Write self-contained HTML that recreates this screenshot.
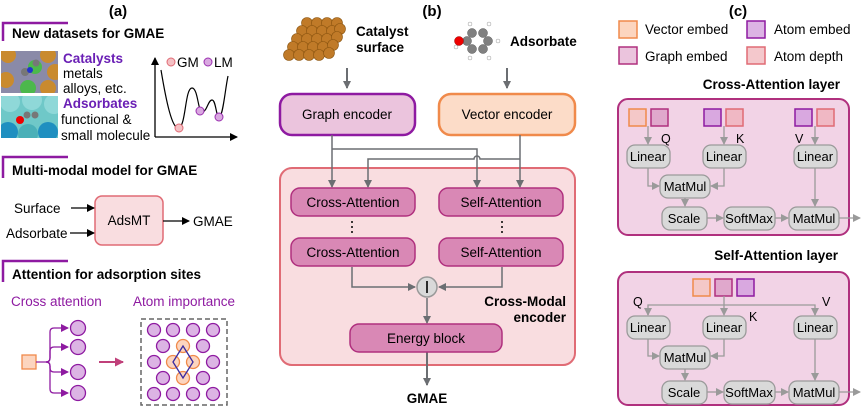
<!DOCTYPE html>
<html><head><meta charset="utf-8"><style>
html,body{margin:0;padding:0;background:#fff}
svg{display:block;font-family:"Liberation Sans",Arial,sans-serif}
</style></head><body>
<svg width="865" height="410" viewBox="0 0 865 410" xmlns="http://www.w3.org/2000/svg">
<defs>
<marker id="ag" markerWidth="8" markerHeight="8" refX="7" refY="4" orient="auto" markerUnits="userSpaceOnUse"><path d="M0,0 L8,4 L0,8 z" fill="#6b6e72"/></marker>
<marker id="al" markerWidth="8" markerHeight="8" refX="7" refY="4" orient="auto" markerUnits="userSpaceOnUse"><path d="M0,0 L8,4 L0,8 z" fill="#9a9a9a"/></marker>
<marker id="ab" markerWidth="8" markerHeight="8" refX="7" refY="4" orient="auto" markerUnits="userSpaceOnUse"><path d="M0,0 L8,4 L0,8 z" fill="#000"/></marker>
<marker id="ap" markerWidth="8" markerHeight="8" refX="7" refY="4" orient="auto" markerUnits="userSpaceOnUse"><path d="M0,0 L8,4 L0,8 z" fill="#8e1aa1"/></marker>
<marker id="am" markerWidth="9" markerHeight="9" refX="8" refY="4.5" orient="auto" markerUnits="userSpaceOnUse"><path d="M0,0 L9,4.5 L0,9 z" fill="#c0407a"/></marker>
<clipPath id="c1"><rect x="1" y="51" width="57" height="42"/></clipPath>
<clipPath id="c2"><rect x="1" y="96" width="57" height="42"/></clipPath>
</defs>

<!-- ===== Panel (a) ===== -->
<text x="118" y="16" font-size="15" font-weight="bold" text-anchor="middle">(a)</text>
<path d="M3,41 V23 H68" fill="none" stroke="#8e1aa1" stroke-width="2.5"/>
<text x="12" y="38" font-size="13.5" font-weight="bold">New datasets for GMAE</text>

<g clip-path="url(#c1)">
<rect x="1" y="51" width="57" height="42" fill="#8a8aa8"/>
<circle cx="8" cy="55" r="8" fill="#c98a2e"/><circle cx="30" cy="55" r="8" fill="#8a8aa8"/><circle cx="48" cy="55" r="8" fill="#c98a2e"/>
<circle cx="18" cy="68" r="8" fill="#8a8aa8"/><circle cx="35" cy="67" r="7" fill="#4cb84c"/><circle cx="55" cy="72" r="8" fill="#c98a2e"/>
<circle cx="6" cy="80" r="8" fill="#c98a2e"/><circle cx="28" cy="88" r="8" fill="#4cb84c"/><circle cx="48" cy="88" r="8" fill="#c98a2e"/>
<circle cx="25" cy="72" r="4" fill="#777"/><circle cx="30" cy="70" r="3" fill="#2233cc"/><circle cx="36" cy="63" r="3.5" fill="#777"/>
</g>
<g clip-path="url(#c2)">
<rect x="1" y="96" width="57" height="42" fill="#6fc8c8"/>
<circle cx="10" cy="102" r="10" fill="#8fd8d8"/><circle cx="32" cy="100" r="10" fill="#8fd8d8"/><circle cx="54" cy="104" r="10" fill="#8fd8d8"/>
<circle cx="8" cy="132" r="10" fill="#1f8fc0"/><circle cx="28" cy="134" r="10" fill="#4ab0b8"/><circle cx="48" cy="132" r="10" fill="#1f8fc0"/>
<circle cx="20" cy="120" r="4" fill="#e00"/><circle cx="27" cy="115" r="3.5" fill="#777"/><circle cx="35" cy="115" r="3.5" fill="#777"/>
</g>
<g font-size="13.5">
<text x="63" y="63" fill="#6a1fb5" font-weight="bold">Catalysts</text>
<text x="63" y="78">metals</text>
<text x="63" y="93">alloys, etc.</text>
<text x="63" y="108" fill="#6a1fb5" font-weight="bold">Adsorbates</text>
<text x="61" y="124">functional &amp;</text>
<text x="61" y="140">small molecule</text>
</g>
<path d="M155,137 V58" stroke="#000" stroke-width="1.3" marker-end="url(#ab)"/>
<path d="M155,137 H237" stroke="#000" stroke-width="1.3" marker-end="url(#ab)"/>
<path d="M161,70 C166,100 172,130 179,128 C186,125 185,88 192,88 C198,88 198,112 202,112 C207,112 208,100 212,100 C216,100 216,117 219,117 C223,117 225,90 228,76" fill="none" stroke="#000" stroke-width="1.2"/>
<circle cx="179" cy="128" r="4" fill="#f4c0c4" stroke="#e06b75"/>
<circle cx="200" cy="111" r="4" fill="#d9a8e0" stroke="#9b30b0"/>
<circle cx="219" cy="117" r="4" fill="#d9a8e0" stroke="#9b30b0"/>
<circle cx="171" cy="62" r="4" fill="#f4c0c4" stroke="#e06b75"/>
<text x="177" y="67" font-size="13.5">GM</text>
<circle cx="208" cy="62" r="4" fill="#d9a8e0" stroke="#9b30b0"/>
<text x="214" y="67" font-size="13.5">LM</text>

<path d="M3,178 V157 H68" fill="none" stroke="#8e1aa1" stroke-width="2.5"/>
<text x="12" y="175" font-size="13.5" font-weight="bold">Multi-modal model for GMAE</text>
<rect x="95" y="196" width="68" height="49" rx="7" fill="#f9dde0" stroke="#e06b75" stroke-width="1.5"/>
<text x="129" y="225" font-size="13.5" text-anchor="middle">AdsMT</text>
<text x="14" y="213" font-size="13.5">Surface</text>
<text x="6" y="238" font-size="13.5">Adsorbate</text>
<path d="M71,208 H94" stroke="#000" stroke-width="1.3" marker-end="url(#ab)"/>
<path d="M70,233 H94" stroke="#000" stroke-width="1.3" marker-end="url(#ab)"/>
<path d="M163,221 H189" stroke="#000" stroke-width="1.3" marker-end="url(#ab)"/>
<text x="193" y="226" font-size="13.5">GMAE</text>

<path d="M3,282 V261 H68" fill="none" stroke="#8e1aa1" stroke-width="2.5"/>
<text x="12" y="279" font-size="13.5" font-weight="bold">Attention for adsorption sites</text>
<text x="11" y="306" font-size="13.5" fill="#8e1aa1">Cross attention</text>
<text x="133" y="306" font-size="13.5" fill="#8e1aa1">Atom importance</text>
<rect x="22" y="355" width="14" height="14" fill="#fcd5bf" stroke="#f08a4b" stroke-width="1.3"/>
<g fill="none" stroke="#8e1aa1" stroke-width="1.3">
<path d="M36,362 H46 Q50,362 50,358 V332 Q50,328 54,328 H68" marker-end="url(#ap)"/>
<path d="M46,362 Q50,362 50,358 V351 Q50,347 54,347 H68" marker-end="url(#ap)"/>
<path d="M46,362 Q50,362 50,366 V368 Q50,372 54,372 H68" marker-end="url(#ap)"/>
<path d="M46,362 Q50,362 50,366 V389 Q50,393 54,393 H68" marker-end="url(#ap)"/>
</g>
<g fill="#dcb4e4" stroke="#8e1aa1" stroke-width="1.3">
<circle cx="78" cy="328" r="7.5"/><circle cx="78" cy="347" r="7.5"/><circle cx="78" cy="372" r="7.5"/><circle cx="78" cy="393" r="7.5"/>
</g>
<path d="M99,362 H123" stroke="#c0407a" stroke-width="2" marker-end="url(#am)"/>
<rect x="141" y="319" width="86" height="86" fill="none" stroke="#666" stroke-width="1.5" stroke-dasharray="5,3"/>
<g fill="#dcb4e4" stroke="#8e1aa1" stroke-width="1.3">
<circle cx="154" cy="330" r="6.5"/><circle cx="173" cy="330" r="6.5"/><circle cx="193" cy="330" r="6.5"/><circle cx="213" cy="330" r="6.5"/>
<circle cx="163" cy="346" r="6.5"/><circle cx="203" cy="346" r="6.5"/>
<circle cx="154" cy="362" r="6.5"/><circle cx="213" cy="362" r="6.5"/>
<circle cx="163" cy="378" r="6.5"/><circle cx="203" cy="378" r="6.5"/>
<circle cx="154" cy="394" r="6.5"/><circle cx="173" cy="394" r="6.5"/><circle cx="193" cy="394" r="6.5"/><circle cx="213" cy="394" r="6.5"/>
</g>
<g fill="#fcd5bf" stroke="#f08a4b" stroke-width="1.3">
<circle cx="183" cy="346" r="6.5"/><circle cx="173" cy="362" r="6.5"/><circle cx="193" cy="362" r="6.5"/><circle cx="183" cy="378" r="6.5"/>
</g>
<path d="M183,346 L193,362 L183,378 L173,362 Z" fill="none" stroke="#3a2aa0" stroke-width="1.3"/>

<!-- ===== Panel (b) ===== -->
<text x="432" y="16" font-size="15" font-weight="bold" text-anchor="middle">(b)</text>
<g fill="#c07a28" stroke="#8a5410" stroke-width="0.6">
<circle cx="307" cy="23" r="5.5"/><circle cx="317" cy="23" r="5.5"/><circle cx="327" cy="23" r="5.5"/><circle cx="337" cy="23" r="5.5"/>
<circle cx="302" cy="31" r="5.5"/><circle cx="312" cy="31" r="5.5"/><circle cx="322" cy="31" r="5.5"/><circle cx="332" cy="31" r="5.5"/><circle cx="340" cy="29" r="5.5"/>
<circle cx="297" cy="39" r="5.5"/><circle cx="307" cy="39" r="5.5"/><circle cx="317" cy="39" r="5.5"/><circle cx="327" cy="39" r="5.5"/><circle cx="337" cy="37" r="5.5"/>
<circle cx="293" cy="47" r="5.5"/><circle cx="303" cy="47" r="5.5"/><circle cx="313" cy="47" r="5.5"/><circle cx="323" cy="47" r="5.5"/><circle cx="333" cy="45" r="5.5"/>
<circle cx="289" cy="55" r="5.5"/><circle cx="299" cy="55" r="5.5"/><circle cx="309" cy="55" r="5.5"/><circle cx="319" cy="55" r="5.5"/><circle cx="329" cy="53" r="5.5"/>
</g>
<text x="356" y="36" font-size="13.5" font-weight="bold">Catalyst</text>
<text x="356" y="52" font-size="13.5" font-weight="bold">surface</text>
<g fill="#808080" stroke="#555" stroke-width="0.5">
<circle cx="472" cy="33" r="4.5"/><circle cx="483" cy="33" r="4.5"/><circle cx="488" cy="41" r="4.5"/><circle cx="483" cy="49" r="4.5"/><circle cx="472" cy="49" r="4.5"/><circle cx="467" cy="41" r="4.5"/>
</g>
<g fill="#fff" stroke="#999" stroke-width="0.5">
<circle cx="470" cy="24" r="2"/><circle cx="489" cy="24" r="2"/><circle cx="498" cy="41" r="2"/><circle cx="489" cy="58" r="2"/><circle cx="470" cy="58" r="2"/><circle cx="456" cy="47" r="2"/>
</g>
<circle cx="459" cy="41" r="4.5" fill="#e00" stroke="#900" stroke-width="0.5"/>
<text x="510" y="46" font-size="13.5" font-weight="bold">Adsorbate</text>
<path d="M347,68 V88" stroke="#6b6e72" stroke-width="2" marker-end="url(#ag)"/>
<path d="M507,68 V88" stroke="#6b6e72" stroke-width="2" marker-end="url(#ag)"/>

<rect x="280" y="94" width="135" height="41" rx="12" fill="#ebc4dd" stroke="#8e1aa1" stroke-width="2.5"/>
<text x="347" y="119" font-size="13.5" text-anchor="middle">Graph encoder</text>
<rect x="439" y="94" width="136" height="41" rx="12" fill="#fcdcc8" stroke="#f08a4b" stroke-width="2.5"/>
<text x="507" y="119" font-size="13.5" text-anchor="middle">Vector encoder</text>

<rect x="280" y="168" width="295" height="197" rx="12" fill="#f9dde0" stroke="#e06b75" stroke-width="2"/>

<g fill="none" stroke="#6b6e72" stroke-width="1.5">
<path d="M332,135 V187" marker-end="url(#ag)"/>
<path d="M332,149 H477 V187" marker-end="url(#ag)"/>
<path d="M520,135 V187" marker-end="url(#ag)"/>
<path d="M520,159 H480 A3,3 0 0 0 474,159 H368 V187" marker-end="url(#ag)"/>
<path d="M352,267 V287 H415" marker-end="url(#ag)"/>
<path d="M502,267 V287 H439" marker-end="url(#ag)"/>
<path d="M427,298 V323" marker-end="url(#ag)"/>
<path d="M427,352 V385" stroke-width="2" marker-end="url(#ag)"/>
</g>
<g fill="#d988b5" stroke="#b0307e" stroke-width="1.5">
<rect x="291" y="188" width="124" height="28" rx="9"/>
<rect x="291" y="238" width="124" height="28" rx="9"/>
<rect x="439" y="188" width="124" height="28" rx="9"/>
<rect x="439" y="238" width="124" height="28" rx="9"/>
<rect x="350" y="324" width="152" height="28" rx="9"/>
</g>
<g font-size="13.5" text-anchor="middle">
<text x="353" y="207">Cross-Attention</text>
<text x="353" y="257">Cross-Attention</text>
<text x="501" y="207">Self-Attention</text>
<text x="501" y="257">Self-Attention</text>
<text x="426" y="343">Energy block</text>
</g>
<g fill="#000"><circle cx="352" cy="222" r="1"/><circle cx="352" cy="227" r="1"/><circle cx="352" cy="232" r="1"/>
<circle cx="502" cy="222" r="1"/><circle cx="502" cy="227" r="1"/><circle cx="502" cy="232" r="1"/></g>
<circle cx="427" cy="287" r="10" fill="#d9d9d9" stroke="#999" stroke-width="1.5"/>
<path d="M427,281 V293" stroke="#000" stroke-width="1.6"/>
<text x="566" y="306" font-size="13.5" font-weight="bold" text-anchor="end">Cross-Modal</text>
<text x="566" y="322" font-size="13.5" font-weight="bold" text-anchor="end">encoder</text>
<text x="427" y="403" font-size="13.5" font-weight="bold" text-anchor="middle">GMAE</text>

<!-- ===== Panel (c) ===== -->
<text x="738" y="16" font-size="15" font-weight="bold" text-anchor="middle">(c)</text>
<rect x="619" y="21" width="18" height="17" fill="#fcd5bf" stroke="#f08a4b" stroke-width="1.5"/>
<text x="645" y="34" font-size="13.5">Vector embed</text>
<rect x="747" y="21" width="18" height="17" fill="#dcb4e4" stroke="#8e1aa1" stroke-width="1.5"/>
<text x="774" y="34" font-size="13.5">Atom embed</text>
<rect x="619" y="47" width="18" height="17" fill="#ebc4dd" stroke="#b0307e" stroke-width="1.5"/>
<text x="645" y="61" font-size="13.5">Graph embed</text>
<rect x="747" y="47" width="18" height="17" fill="#f4c8cc" stroke="#e06b75" stroke-width="1.5"/>
<text x="774" y="61" font-size="13.5">Atom depth</text>

<text x="840" y="89" font-size="13.5" font-weight="bold" text-anchor="end">Cross-Attention layer</text>
<rect x="618" y="99" width="231" height="136" rx="10" fill="#f2d3e6" stroke="#b0307e" stroke-width="2"/>
<rect x="629" y="109" width="17" height="17" fill="#f4c8c8" stroke="#f08a4b" stroke-width="1.5"/>
<rect x="651" y="109" width="17" height="17" fill="#e0a8cc" stroke="#b0307e" stroke-width="1.5"/>
<rect x="704" y="109" width="17" height="17" fill="#d9a8e0" stroke="#8e1aa1" stroke-width="1.5"/>
<rect x="726" y="109" width="17" height="17" fill="#f0b8c4" stroke="#e06b75" stroke-width="1.5"/>
<rect x="795" y="109" width="17" height="17" fill="#d9a8e0" stroke="#8e1aa1" stroke-width="1.5"/>
<rect x="817" y="109" width="17" height="17" fill="#f0b8c4" stroke="#e06b75" stroke-width="1.5"/>
<g font-size="12.5"><text x="661" y="143">Q</text><text x="736" y="143">K</text><text x="795" y="143">V</text></g>
<g fill="none" stroke="#9a9a9a" stroke-width="1.3">
<path d="M648,126 V144" marker-end="url(#al)"/>
<path d="M724,126 V144" marker-end="url(#al)"/>
<path d="M815,126 V144" marker-end="url(#al)"/>
<path d="M648,168 V186 H659" marker-end="url(#al)"/>
<path d="M724,168 V186 H711" marker-end="url(#al)"/>
<path d="M685,198 V206" marker-end="url(#al)"/>
<path d="M815,168 V206" marker-end="url(#al)"/>
<path d="M707,218 H723" marker-end="url(#al)"/>
<path d="M775,218 H788" marker-end="url(#al)"/>
<path d="M839,218 H860" marker-end="url(#al)"/>
</g>
<g fill="#d9d9d9" stroke="#9a9a9a" stroke-width="1.3">
<rect x="627" y="145" width="43" height="23" rx="8"/>
<rect x="703" y="145" width="43" height="23" rx="8"/>
<rect x="794" y="145" width="43" height="23" rx="8"/>
<rect x="660" y="175" width="50" height="23" rx="8"/>
<rect x="662" y="207" width="45" height="23" rx="8"/>
<rect x="724" y="207" width="51" height="23" rx="8"/>
<rect x="789" y="207" width="50" height="23" rx="8"/>
</g>
<g font-size="13" text-anchor="middle">
<text x="648" y="161">Linear</text><text x="724" y="161">Linear</text><text x="815" y="161">Linear</text>
<text x="685" y="191">MatMul</text>
<text x="684" y="223">Scale</text><text x="749" y="223">SoftMax</text><text x="814" y="223">MatMul</text>
</g>

<text x="838" y="260" font-size="13.5" font-weight="bold" text-anchor="end">Self-Attention layer</text>
<rect x="618" y="272" width="231" height="133" rx="10" fill="#f2d3e6" stroke="#b0307e" stroke-width="2"/>
<rect x="693" y="279" width="17" height="17" fill="#f4c8c8" stroke="#f08a4b" stroke-width="1.5"/>
<rect x="715" y="279" width="17" height="17" fill="#e0a8cc" stroke="#b0307e" stroke-width="1.5"/>
<rect x="737" y="279" width="17" height="17" fill="#d9a8e0" stroke="#8e1aa1" stroke-width="1.5"/>
<g font-size="12.5"><text x="633" y="306">Q</text><text x="749" y="321">K</text><text x="822" y="306">V</text></g>
<g fill="none" stroke="#9a9a9a" stroke-width="1.3">
<path d="M724,296 V315" marker-end="url(#al)"/>
<path d="M648,315 V305 H815 V315" />
<path d="M648,308 V315" marker-end="url(#al)"/>
<path d="M815,308 V315" marker-end="url(#al)"/>
<path d="M648,339 V356 H659" marker-end="url(#al)"/>
<path d="M724,339 V356 H711" marker-end="url(#al)"/>
<path d="M685,368 V380" marker-end="url(#al)"/>
<path d="M815,339 V380" marker-end="url(#al)"/>
<path d="M707,392 H723" marker-end="url(#al)"/>
<path d="M775,392 H788" marker-end="url(#al)"/>
<path d="M839,392 H860" marker-end="url(#al)"/>
</g>
<g fill="#d9d9d9" stroke="#9a9a9a" stroke-width="1.3">
<rect x="627" y="316" width="43" height="23" rx="8"/>
<rect x="703" y="316" width="43" height="23" rx="8"/>
<rect x="794" y="316" width="43" height="23" rx="8"/>
<rect x="660" y="346" width="50" height="23" rx="8"/>
<rect x="662" y="381" width="45" height="23" rx="8"/>
<rect x="724" y="381" width="51" height="23" rx="8"/>
<rect x="789" y="381" width="50" height="23" rx="8"/>
</g>
<g font-size="13" text-anchor="middle">
<text x="648" y="332">Linear</text><text x="724" y="332">Linear</text><text x="815" y="332">Linear</text>
<text x="685" y="362">MatMul</text>
<text x="684" y="397">Scale</text><text x="749" y="397">SoftMax</text><text x="814" y="397">MatMul</text>
</g>
</svg>
</body></html>
